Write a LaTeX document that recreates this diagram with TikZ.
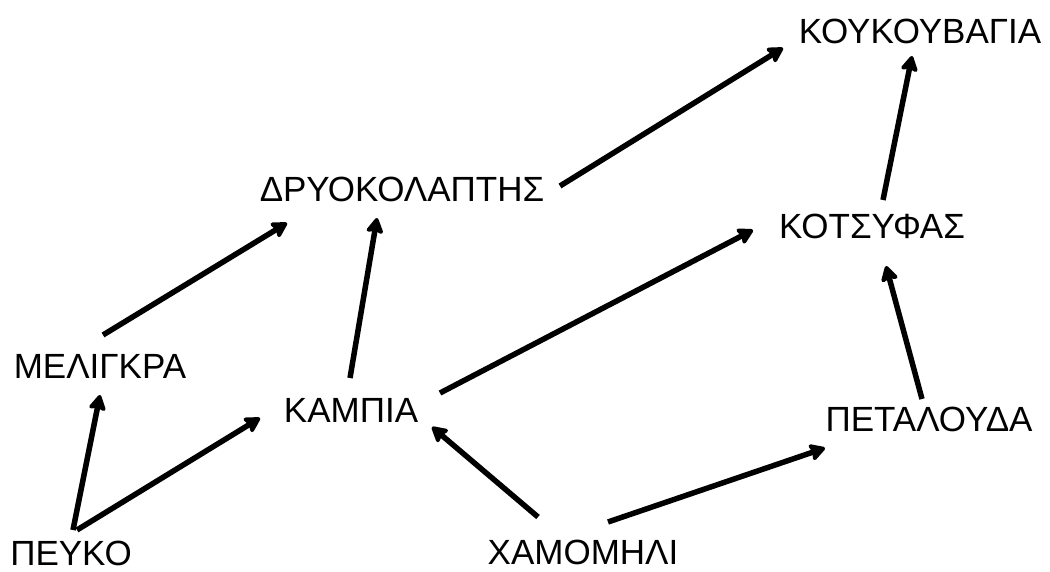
\documentclass[tikz,border=0pt]{standalone}
\usepackage{fontspec}
\setmainfont{Liberation Sans}
\usetikzlibrary{arrows.meta}
\begin{document}
\begin{tikzpicture}[x=1pt,y=-1pt,
  lbl/.style={inner sep=0pt,font=\fontsize{35}{40}\selectfont},
  arr/.style={line width=5.5pt,-{Stealth[length=18pt,width=20pt,inset=3pt,round]}}]
\useasboundingbox (0,0) rectangle (1050,572);
\node[lbl] (kouk) at (920,31) {ΚΟΥΚΟΥΒΑΓΙΑ};
\node[lbl] (dryo) at (402,189) {ΔΡΥΟΚΟΛΑΠΤΗΣ};
\node[lbl] (kots) at (872,226) {ΚΟΤΣΥΦΑΣ};
\node[lbl] (meli) at (100,366) {ΜΕΛΙΓΚΡΑ};
\node[lbl] (kamp) at (351,410) {ΚΑΜΠΙΑ};
\node[lbl] (peta) at (929,419) {ΠΕΤΑΛΟΥΔΑ};
\node[lbl] (peuk) at (71,553) {ΠΕΥΚΟ};
\node[lbl] (xamo) at (583,552) {ΧΑΜΟΜΗΛΙ};
\draw[arr] ([shift={(2,-23)}]peuk.center) -- ([shift={(0,29)}]meli.center);
\draw[arr] ([shift={(6,-23)}]peuk.center) -- ([shift={(-91,8)}]kamp.center);
\draw[arr] ([shift={(3,-31)}]meli.center) -- ([shift={(-115,34)}]dryo.center);
\draw[arr] ([shift={(-1,-32)}]kamp.center) -- ([shift={(-25,29)}]dryo.center);
\draw[arr] ([shift={(158,-3)}]dryo.center) -- ([shift={(-137,17)}]kouk.center);
\draw[arr] ([shift={(89,-17)}]kamp.center) -- ([shift={(-119,4)}]kots.center);
\draw[arr] ([shift={(-45,-35)}]xamo.center) -- ([shift={(81,17)}]kamp.center);
\draw[arr] ([shift={(25,-30)}]xamo.center) -- ([shift={(-104,29)}]peta.center);
\draw[arr] ([shift={(11,-26)}]kots.center) -- ([shift={(-8,25)}]kouk.center);
\draw[arr] ([shift={(-7,-20)}]peta.center) -- ([shift={(14,40)}]kots.center);
\end{tikzpicture}
\end{document}
